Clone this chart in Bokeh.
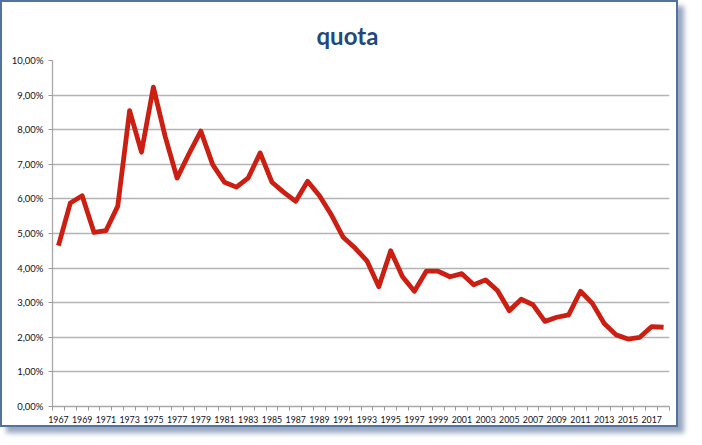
from bokeh.plotting import figure
from bokeh.embed import file_html
from bokeh.resources import INLINE
from bokeh.models import FixedTicker, CustomJSTickFormatter, Range1d

years = list(range(1967, 2019))
quota = [4.65, 5.88, 6.09, 5.03, 5.08, 5.79, 8.55, 7.35, 9.23, 7.80,
         6.60, 7.30, 7.96, 6.99, 6.48, 6.34, 6.61, 7.33, 6.48, 6.19,
         5.93, 6.51, 6.09, 5.54, 4.89, 4.58, 4.21, 3.46, 4.50, 3.75,
         3.33, 3.91, 3.91, 3.75, 3.84, 3.52, 3.66, 3.35, 2.77, 3.10,
         2.94, 2.46, 2.58, 2.65, 3.33, 2.98, 2.40, 2.07, 1.95, 2.00,
         2.31, 2.29]
y_ticks = list(range(0, 11))
x_label_years = years[::2]
title_text = "quota"

p = figure(frame_width=617, frame_height=346,
           min_border_left=50, min_border_right=7,
           min_border_top=58, min_border_bottom=17,
           output_backend="svg", toolbar_location=None,
           x_range=Range1d(years[0] - 0.5, years[-1] + 0.5),
           y_range=Range1d(0, 10),
           styles={"border": "2px solid #52729f",
                   "box-shadow": "6px 6px 5px rgba(70,95,140,0.55)"})
p.outline_line_color = None
p.background_fill_color = "white"
p.border_fill_color = "white"

p.title.text = title_text
p.title.text_font = "Lato"
p.title.text_font_style = "bold"
p.title.text_font_size = "24px"
p.title.text_color = "#1f497d"
p.title.align = "left"
p.title.offset = 264
p.title.standoff = 22

p.line(years, quota, line_color="#cc1f14", line_width=4.8, line_join="round")

# x axis
xa = p.xaxis[0]
xa.ticker = FixedTicker(ticks=x_label_years,
                        minor_ticks=[y - 0.5 for y in years] + [years[-1] + 0.5])
xa.major_tick_out = 0
xa.major_tick_in = 0
xa.minor_tick_out = 4
xa.minor_tick_in = 0
xa.minor_tick_line_color = "#999999"
xa.axis_line_color = "#a8a8a8"
xa.axis_line_width = 1.3
xa.major_label_text_font = "Lato"
xa.major_label_text_font_size = "8.8px"
xa.major_label_text_color = "#111122"
xa.major_label_standoff = 5
xa.formatter = CustomJSTickFormatter(code="return String(tick)")

# y axis
ya = p.yaxis[0]
ya.ticker = FixedTicker(ticks=y_ticks)
ya.formatter = CustomJSTickFormatter(code="return tick.toFixed(2).replace('.', ',') + '%'")
ya.major_tick_out = 4
ya.major_tick_in = 0
ya.minor_tick_out = 0
ya.minor_tick_in = 0
ya.major_tick_line_color = "#999999"
ya.axis_line_color = "#a8a8a8"
ya.axis_line_width = 1.3
ya.major_label_text_font = "Lato"
ya.major_label_text_font_size = "9.5px"
ya.major_label_text_color = "#111122"
ya.major_label_standoff = 5

p.xgrid.grid_line_color = None
p.ygrid.grid_line_color = "#b4b4b4"
p.ygrid.grid_line_width = 1.5

open("out.html", "w").write(file_html(p, INLINE))
